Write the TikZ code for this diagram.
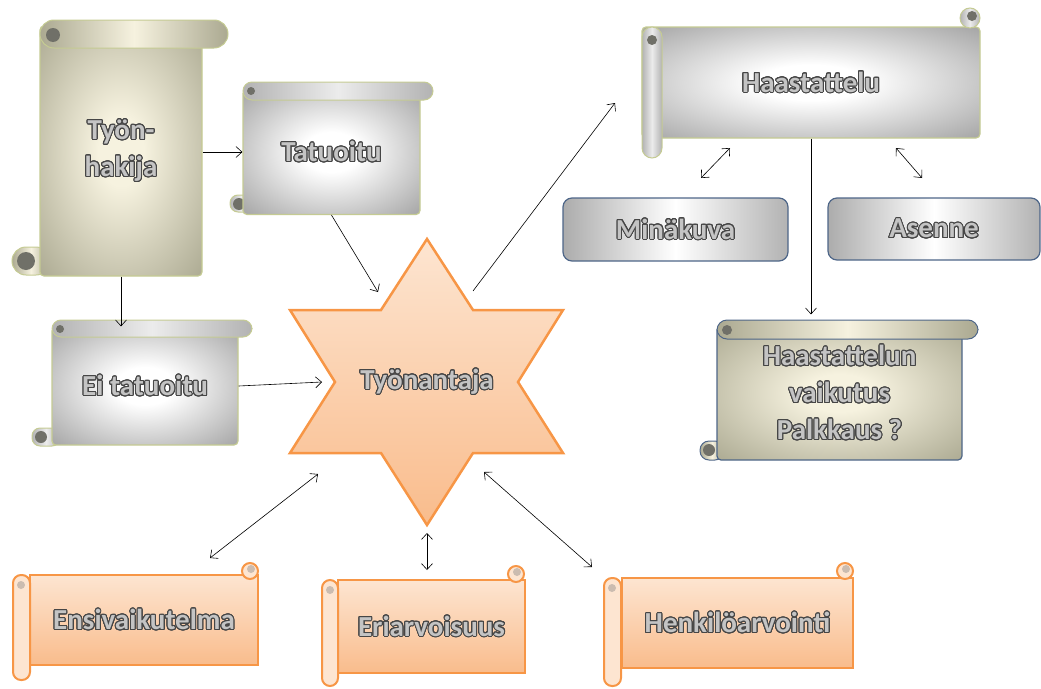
\documentclass[tikz,border=0pt]{standalone}
\usepackage{fontspec}
\setmainfont{Carlito}
\usepackage{xcolor}
\usepackage{contour}
\usepackage{tikz}
\usetikzlibrary{arrows.meta,shapes.geometric}
\definecolor{olivedge}{HTML}{C5CB93}
\definecolor{beigein}{HTML}{F6F2DF}
\definecolor{beigeout}{HTML}{ABA991}
\definecolor{beigedark}{HTML}{9C9A82}
\definecolor{greyout}{HTML}{A3A3A3}
\definecolor{greydark}{HTML}{8E8E8E}
\definecolor{curlgrey}{HTML}{707068}
\definecolor{slateedge}{HTML}{4E6688}
\definecolor{orangeedge}{HTML}{F79646}
\definecolor{orangetop}{HTML}{FDE5D1}
\definecolor{orangebot}{HTML}{F9BC8C}
\definecolor{textedge}{HTML}{464646}
\definecolor{textfill}{HTML}{C4C4C4}
\contourlength{1pt}
\contournumber{24}
\newcommand{\ol}[1]{\contour{textedge}{\textcolor{textfill}{#1}}}
\pgfdeclareradialshading{greyglow}{\pgfpoint{0bp}{0bp}}{color(0bp)=(white); color(8bp)=(white); color(36bp)=(greyout); color(50bp)=(greydark)}
\pgfdeclareradialshading{beigeglow}{\pgfpoint{0bp}{0bp}}{color(0bp)=(beigein); color(7bp)=(beigein); color(36bp)=(beigeout); color(50bp)=(beigedark)}

\tikzset{
  lbl/.style={font=\fontsize{29}{37}\selectfont\bfseries, align=center},
  greybody/.style={lbl, rectangle, rounded corners=4pt, draw=olivedge, line width=1.2pt, shading=greyglow},
  beigebody/.style={lbl, rectangle, rounded corners=4pt, draw=olivedge, line width=1.2pt, shading=beigeglow},
  greyroll/.style={draw=olivedge, line width=1pt, left color=gray!60, right color=gray!60, middle color=gray!15},
  beigeroll/.style={draw=olivedge, line width=1pt, left color=beigeout, right color=beigeout, middle color=beigein},
  curl/.style={fill=curlgrey},
  plainbox/.style={lbl, rectangle, rounded corners=9pt, draw=slateedge, line width=1.2pt, left color=gray!65, right color=gray!60, middle color=white},
  orangebody/.style={lbl, rectangle, draw=orangeedge, line width=2pt, top color=orangetop, bottom color=orangebot},
  orangeroll/.style={draw=orangeedge, line width=2pt, fill=orangetop},
  arr/.style={-{Straight Barb[length=6pt,width=11pt]}, line width=0.6pt},
  dbl/.style={{Straight Barb[length=6pt,width=11pt]}-{Straight Barb[length=6pt,width=11pt]}, line width=0.6pt}
}

\begin{document}
\begin{tikzpicture}[x=1pt,y=-1pt]
\useasboundingbox (0,0) rectangle (1041,688);

% Tyonhakija
\draw[beigeroll, rounded corners=14pt] (12,247) rectangle (50,275);
\fill[curl] (26,261) circle (9);
\node[beigebody, minimum width=162pt, minimum height=250pt] (hakija) at (121,151) {\ol{Työn-}\\\ol{hakija}};
\draw[beigeroll, rounded corners=14pt] (40,20) rectangle (228,48);
\fill[curl] (53,35) circle (7);

% Tatuoitu
\draw[greyroll, rounded corners=8pt] (230,195) rectangle (252,212);
\fill[curl] (239,204) circle (6);
\node[greybody, minimum width=177pt, minimum height=125pt] (tatu) at (331.5,152) {\ol{Tatuoitu}};
\draw[greyroll, rounded corners=9pt] (243,82) rectangle (433,100);
\fill[curl] (251,91) circle (4);

% Ei tatuoitu
\draw[greyroll, rounded corners=8pt] (32,428) rectangle (60,446);
\fill[curl] (41,437) circle (6);
\node[greybody, minimum width=186pt, minimum height=118pt] (eitatu) at (145,386) {\ol{Ei tatuoitu}};
\draw[greyroll, rounded corners=9pt] (52,320) rectangle (252,337);
\fill[curl] (60,329) circle (4);

% Tyonantaja
\draw[orangeedge, line width=2.5pt, line join=miter, top color=orangetop, bottom color=orangebot]
  (427,239) -- (473,310) -- (563,310) -- (518,382) -- (563,453) -- (473,453)
  -- (427,525) -- (381,453) -- (290,453) -- (335,382) -- (290,310) -- (381,310) -- cycle;
\node[lbl] (boss) at (427,382) {\ol{Työnantaja}};

% Haastattelu
\node[greybody, minimum width=338pt, minimum height=111pt] (haast) at (811,82.5) {\ol{Haastattelu}};
\draw[greyroll, rounded corners=10pt] (642,27) rectangle (662,158);
\fill[curl] (652,40) circle (5);
\draw[greyroll] (970,18) circle (10);
\fill[curl] (972,16) circle (5);

\node[plainbox, minimum width=225pt, minimum height=63pt] (mina) at (675.5,229.5) {\ol{Minäkuva}};
\node[plainbox, minimum width=212pt, minimum height=62pt] (asenne) at (934,229) {\ol{Asenne}};

% Haastattelun vaikutus
\draw[beigeroll, draw=slateedge, rounded corners=9pt] (700,441) rectangle (724,460);
\fill[curl] (709,450) circle (6);
\node[beigebody, draw=slateedge, minimum width=245pt, minimum height=134pt] (vaik) at (839.5,393) {\ol{Haastattelun}\\\ol{vaikutus}\\\ol{Palkkaus ?}};
\draw[beigeroll, draw=slateedge, rounded corners=10pt] (717,320) rectangle (978,339);
\fill[curl] (727,330) circle (5);

% alarivi
\node[orangebody, minimum width=228pt, minimum height=90pt] (ensi) at (144,620) {\ol{Ensivaikutelma}};
\draw[orangeroll, rounded corners=8pt] (13,575) rectangle (30,680);
\fill[orangetop!60!gray] (21,585) circle (4);
\draw[orangeroll] (250,571) circle (8);
\fill[orangetop!60!gray] (251,569) circle (4);

\node[orangebody, minimum width=187pt, minimum height=93pt] (eri) at (431.5,626.5) {\ol{Eriarvoisuus}};
\draw[orangeroll, rounded corners=8pt] (322,580) rectangle (338,686);
\fill[orangetop!60!gray] (330,590) circle (4);
\draw[orangeroll] (516,574) circle (8);
\fill[orangetop!60!gray] (517,572) circle (4);

\node[orangebody, minimum width=231pt, minimum height=90pt] (henk) at (737.5,623) {\ol{Henkilöarvointi}};
\draw[orangeroll, rounded corners=8pt] (604,578) rectangle (621,686);
\fill[orangetop!60!gray] (612,588) circle (4);
\draw[orangeroll] (845,571) circle (8);
\fill[orangetop!60!gray] (846,569) circle (4);

% kulmat nuolille
\coordinate (bw) at (322,382);
\coordinate (bnw) at (378,292);
\coordinate (bne) at (473,291);
\coordinate (hin) at (615,103);
\coordinate (hsw) at (730,148);
\coordinate (minin) at (701,178);
\coordinate (hse) at (896,148);
\coordinate (asin) at (922,178);
\coordinate (bsw) at (318,474);
\coordinate (ensin) at (210,558);
\coordinate (bs) at (427,533);
\coordinate (eriin) at (427,570);
\coordinate (bse) at (484,472);
\coordinate (henkin) at (592,567);

\draw[arr] (hakija.east |- tatu.west) -- (tatu.west);
\draw[arr] (hakija.south) -- (hakija.south |- eitatu.north);
\draw[arr] (tatu.south) -- (bnw);
\draw[arr] (eitatu.east) -- (bw);
\draw[arr] (bne) -- (hin);
\draw[arr, shorten >=11pt] (haast.south) -- (haast.south |- vaik.north);
\draw[dbl] (hsw) -- (minin);
\draw[dbl] (hse) -- (asin);
\draw[dbl] (bsw) -- (ensin);
\draw[dbl] (bs) -- (eriin);
\draw[dbl] (bse) -- (henkin);
\end{tikzpicture}
\end{document}
